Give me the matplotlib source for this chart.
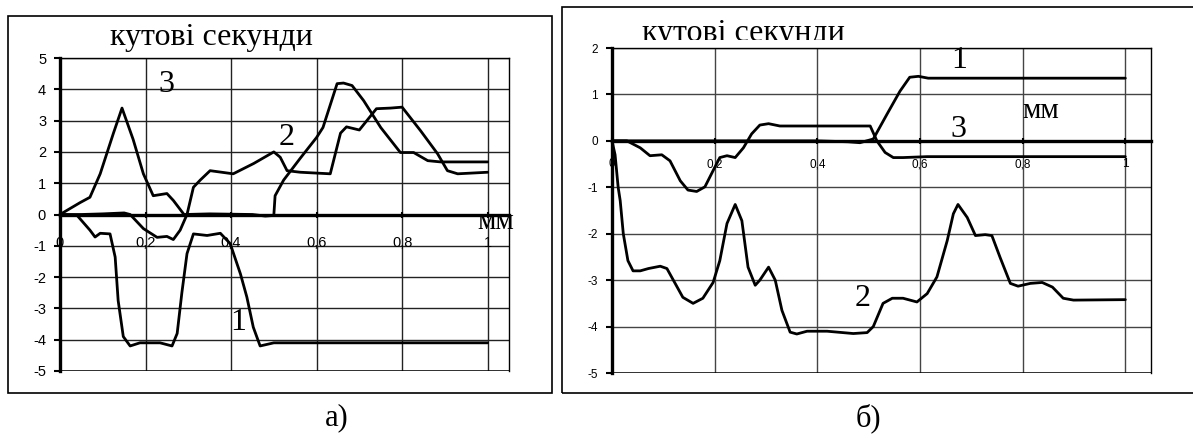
import matplotlib
matplotlib.use("Agg")
import matplotlib.pyplot as plt
from matplotlib.patches import Rectangle
from matplotlib.transforms import Bbox, TransformedBbox

# ---- data, panel a) ----
a_x_ticks = [0, 0.2, 0.4, 0.6, 0.8, 1.0]
a_x_labels = ["0", "0,2", "0,4", "0,6", "0,8", "1"]

a1_x = [0, 0.04, 0.07, 0.082, 0.094, 0.117, 0.129, 0.136, 0.148, 0.164, 0.187, 0.234,
        0.262, 0.274, 0.285, 0.297, 0.312, 0.344, 0.375, 0.398, 0.422, 0.437, 0.452,
        0.468, 0.5, 1.0]
a1_y = [0, -0.03, -0.5, -0.72, -0.6, -0.62, -1.36, -2.75, -3.9, -4.2, -4.1, -4.1,
        -4.2, -3.8, -2.5, -1.25, -0.62, -0.67, -0.6, -0.93, -1.9, -2.64, -3.6,
        -4.2, -4.1, -4.1]

a2_x = [0, 0.05, 0.1, 0.15, 0.164, 0.195, 0.227, 0.25, 0.265, 0.281, 0.297, 0.312,
        0.328, 0.351, 0.405, 0.453, 0.5, 0.515, 0.531, 0.562, 0.632, 0.656, 0.67,
        0.70, 0.74, 0.773, 0.80, 0.843, 0.883, 0.906, 0.93, 1.0]
a2_y = [0, 0, 0.02, 0.05, 0, -0.45, -0.73, -0.7, -0.8, -0.5, 0, 0.87,
        1.1, 1.4, 1.3, 1.63, 2.0, 1.83, 1.4, 1.35, 1.3, 2.6, 2.8,
        2.7, 3.38, 3.4, 3.43, 2.68, 1.94, 1.4, 1.3, 1.35]

a3_x = [0, 0.016, 0.047, 0.07, 0.094, 0.125, 0.145, 0.171, 0.195, 0.218, 0.25, 0.265,
        0.29, 0.35, 0.45, 0.48, 0.5, 0.503, 0.523, 0.562, 0.60, 0.615, 0.648, 0.663,
        0.683, 0.71, 0.75, 0.796, 0.827, 0.86, 0.89, 1.0]
a3_y = [0, 0.13, 0.38, 0.55, 1.3, 2.6, 3.4, 2.4, 1.3, 0.6, 0.67, 0.45,
        0, 0.02, 0, -0.05, -0.03, 0.6, 1.1, 1.8, 2.46, 2.78, 4.18, 4.2,
        4.12, 3.64, 2.78, 1.98, 1.98, 1.72, 1.68, 1.68]

# ---- data, panel б) ----
b_x_ticks = [0, 0.2, 0.4, 0.6, 0.8, 1.0]
b_x_labels = ["0", "0,2", "0,4", "0,6", "0,8", "1"]

b1_x = [0, 0.2, 0.4, 0.46, 0.483, 0.509, 0.536, 0.561, 0.58, 0.597, 0.616, 1.0]
b1_y = [0, 0, 0, -0.02, -0.04, 0.04, 0.58, 1.07, 1.37, 1.39, 1.35, 1.35]

b2_x = [0, 0.006, 0.012, 0.016, 0.022, 0.031, 0.041, 0.055, 0.071, 0.094, 0.107, 0.123,
        0.138, 0.158, 0.177, 0.197, 0.21, 0.224, 0.24, 0.253, 0.265, 0.279, 0.288,
        0.305, 0.318, 0.331, 0.347, 0.36, 0.38, 0.419, 0.47, 0.497, 0.509, 0.528,
        0.546, 0.567, 0.594, 0.614, 0.633, 0.653, 0.665, 0.674, 0.692, 0.708, 0.727,
        0.74, 0.756, 0.776, 0.791, 0.815, 0.838, 0.858, 0.879, 0.899, 1.0]
b2_y = [0, -0.3, -1.0, -1.29, -2.0, -2.58, -2.8, -2.8, -2.75, -2.7, -2.75, -3.07,
        -3.37, -3.5, -3.39, -3.05, -2.58, -1.78, -1.37, -1.72, -2.72, -3.11, -3.0,
        -2.72, -3.0, -3.65, -4.12, -4.16, -4.1, -4.1, -4.15, -4.13, -4.0, -3.5,
        -3.39, -3.39, -3.47, -3.29, -2.93, -2.15, -1.57, -1.37, -1.65, -2.04, -2.02,
        -2.04, -2.51, -3.07, -3.13, -3.07, -3.05, -3.15, -3.39, -3.43, -3.42]

b3_x = [0, 0.029, 0.055, 0.074, 0.097, 0.113, 0.133, 0.148, 0.165, 0.181, 0.197, 0.21,
        0.224, 0.24, 0.256, 0.272, 0.288, 0.305, 0.327, 0.503, 0.516, 0.532, 0.548,
        0.567, 0.614, 1.0]
b3_y = [0, 0, -0.15, -0.32, -0.3, -0.43, -0.86, -1.06, -1.09, -0.99, -0.64, -0.36,
        -0.32, -0.36, -0.15, 0.15, 0.34, 0.37, 0.32, 0.32, 0.0, -0.25, -0.36,
        -0.36, -0.34, -0.34]

SERIF = "Liberation Serif"
SANS = "Liberation Sans"
W, H = 1193, 438

fig = plt.figure(figsize=(W / 100, H / 100), dpi=100)


def px_rect(x0, y0, x1, y1):
    # pixel box (top-left origin) -> figure fraction [l, b, w, h]
    return [x0 / W, 1 - y1 / H, (x1 - x0) / W, (y1 - y0) / H]


def excel_axes(rect, ylim, tick_fs, xpad, grid_c):
    ax = fig.add_axes(rect)
    ax.set_xlim(0, 1.05)
    ax.set_ylim(*ylim)
    ax.set_yticks(range(ylim[0], ylim[1] + 1))
    ax.set_yticklabels([str(v) for v in range(ylim[0], ylim[1] + 1)],
                       fontfamily=SANS, fontsize=tick_fs)
    for v in range(ylim[0], ylim[1] + 1):
        ax.axhline(v, color=grid_c, lw=1.0, zorder=1)
    for v in [0.2, 0.4, 0.6, 0.8, 1.0]:
        ax.axvline(v, color=grid_c, lw=1.0, zorder=1)
    ax.spines["left"].set_linewidth(2.4)
    ax.spines["bottom"].set_position(("data", 0))
    ax.spines["bottom"].set_linewidth(2.4)
    ax.spines["top"].set_linewidth(1.0)
    ax.spines["right"].set_linewidth(1.0)
    ax.axhline(ylim[0], color="black", lw=1.8, zorder=1)
    ax.tick_params(axis="y", direction="out", length=4, width=1.5, pad=6)
    ax.tick_params(axis="x", direction="inout", length=5, width=1.5, pad=xpad)
    return ax


def curve(ax, xs, ys):
    ax.plot(xs, ys, color="black", lw=2.0, zorder=3, clip_on=False,
            solid_joinstyle="round", solid_capstyle="round")


# outer frames
fig.patches.append(Rectangle((8 / W, 1 - 393 / H), 544 / W, 377 / H,
                             transform=fig.transFigure, fill=False, lw=1.2,
                             ec="black"))
fig.patches.append(Rectangle((562 / W, 1 - 393 / H), 640 / W, 386 / H,
                             transform=fig.transFigure, fill=False, lw=1.2,
                             ec="black"))

# ---- panel a) ----
axa = excel_axes(px_rect(60, 58, 509, 371), (-5, 5), 10.5, 13, "#222222")
axa.set_xticks(a_x_ticks)
axa.set_xticklabels(a_x_labels, fontfamily=SANS, fontsize=10.5)
for xs, ys in [(a1_x, a1_y), (a2_x, a2_y), (a3_x, a3_y)]:
    curve(axa, xs, ys)
axa.text(0.248, 4.15, "3", fontfamily=SERIF, fontsize=23, ha="center", va="center")
axa.text(0.53, 2.45, "2", fontfamily=SERIF, fontsize=23, ha="center", va="center")
axa.text(0.417, -3.45, "1", fontfamily=SERIF, fontsize=23, ha="center", va="center")
axa.text(1.02, -0.25, "мм", fontfamily=SERIF, fontsize=21, ha="center", va="center")
fig.text(110 / W, 1 - 45 / H, "кутові секунди", fontfamily=SERIF, fontsize=23,
         ha="left", va="baseline")

# ---- panel б) ----
axb = excel_axes(px_rect(612, 48, 1151, 373), (-5, 2), 8.5, 10, "#444444")
axb.set_xticks(b_x_ticks)
axb.set_xticklabels(b_x_labels, fontfamily=SANS, fontsize=8.5)
for xs, ys in [(b1_x, b1_y), (b2_x, b2_y), (b3_x, b3_y)]:
    curve(axb, xs, ys)
axb.text(0.676, 1.74, "1", fontfamily=SERIF, fontsize=23, ha="center", va="center")
axb.text(0.675, 0.25, "3", fontfamily=SERIF, fontsize=23, ha="center", va="center")
axb.text(0.488, -3.4, "2", fontfamily=SERIF, fontsize=23, ha="center", va="center")
axb.text(0.80, 0.64, "мм", fontfamily=SERIF, fontsize=21, ha="left", va="center")
# title of panel б) is cut off along its lower edge, as in the source:
# keep only the part above the cut line
tb = fig.text(642 / W, 1 - 41.5 / H, "кутові секунди", fontfamily=SERIF,
              fontsize=23, ha="left", va="baseline", clip_on=True)
tb.set_clip_box(TransformedBbox(Bbox([[0, 1 - 39.5 / H], [1, 1]]), fig.transFigure))

# captions
fig.text(337 / W, 1 - 418 / H, "а)", fontfamily=SERIF, fontsize=22,
         ha="center", va="center")
fig.text(868 / W, 1 - 418 / H, "б)", fontfamily=SERIF, fontsize=22,
         ha="center", va="center")

fig.savefig("out.png", dpi=100)
